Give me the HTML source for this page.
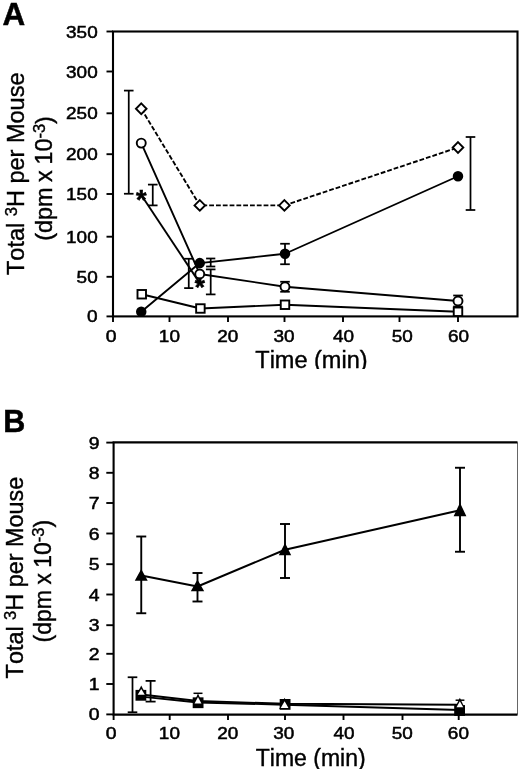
<!DOCTYPE html>
<html lang="en"><head><meta charset="utf-8"><title>Figure</title>
<style>html,body{margin:0;padding:0;background:#fff}svg{display:block;will-change:transform;filter:blur(0.35px)}</style></head>
<body>
<svg width="520" height="773" viewBox="0 0 520 773" font-family="'Liberation Sans', Arial, Helvetica, sans-serif" fill="#000" style="font-kerning:none">
<rect width="520" height="773" fill="#fff"/>
<clipPath id="ca"><rect x="0" y="0" width="520" height="368.9"/></clipPath>
<g clip-path="url(#ca)">
<text x="255.3" y="368.1" font-size="23.5" text-anchor="start" font-weight="normal"  stroke="#000" stroke-width="0.4">Time (min)</text>
</g>
<rect x="113.0" y="31.5" width="404.5" height="284.9" fill="none" stroke="#000" stroke-width="2.1"/>
<line x1="106.5" y1="31.5" x2="113.0" y2="31.5" stroke="#000" stroke-width="1.9" />
<text x="97.7" y="37.55" font-size="16.9" text-anchor="end" font-weight="normal" textLength="31.6" lengthAdjust="spacingAndGlyphs"  stroke="#000" stroke-width="0.5">350</text>
<line x1="106.5" y1="71.5" x2="113.0" y2="71.5" stroke="#000" stroke-width="1.9" />
<text x="97.7" y="77.55" font-size="16.9" text-anchor="end" font-weight="normal" textLength="31.6" lengthAdjust="spacingAndGlyphs"  stroke="#000" stroke-width="0.5">300</text>
<line x1="106.5" y1="113.3" x2="113.0" y2="113.3" stroke="#000" stroke-width="1.9" />
<text x="97.7" y="119.35" font-size="16.9" text-anchor="end" font-weight="normal" textLength="31.6" lengthAdjust="spacingAndGlyphs"  stroke="#000" stroke-width="0.5">250</text>
<line x1="106.5" y1="154.2" x2="113.0" y2="154.2" stroke="#000" stroke-width="1.9" />
<text x="97.7" y="160.25" font-size="16.9" text-anchor="end" font-weight="normal" textLength="31.6" lengthAdjust="spacingAndGlyphs"  stroke="#000" stroke-width="0.5">200</text>
<line x1="106.5" y1="194" x2="113.0" y2="194" stroke="#000" stroke-width="1.9" />
<text x="97.7" y="200.05" font-size="16.9" text-anchor="end" font-weight="normal" textLength="31.6" lengthAdjust="spacingAndGlyphs"  stroke="#000" stroke-width="0.5">150</text>
<line x1="106.5" y1="236.7" x2="113.0" y2="236.7" stroke="#000" stroke-width="1.9" />
<text x="97.7" y="242.75" font-size="16.9" text-anchor="end" font-weight="normal" textLength="31.6" lengthAdjust="spacingAndGlyphs"  stroke="#000" stroke-width="0.5">100</text>
<line x1="106.5" y1="276.8" x2="113.0" y2="276.8" stroke="#000" stroke-width="1.9" />
<text x="97.7" y="282.85" font-size="16.9" text-anchor="end" font-weight="normal" textLength="21.1" lengthAdjust="spacingAndGlyphs"  stroke="#000" stroke-width="0.5">50</text>
<line x1="106.5" y1="316.4" x2="113.0" y2="316.4" stroke="#000" stroke-width="1.9" />
<text x="97.7" y="322.45" font-size="16.9" text-anchor="end" font-weight="normal" textLength="10.6" lengthAdjust="spacingAndGlyphs"  stroke="#000" stroke-width="0.5">0</text>
<line x1="113.0" y1="316.4" x2="113.0" y2="322" stroke="#000" stroke-width="1.9" />
<text x="111.2" y="341.9" font-size="16.9" text-anchor="middle" font-weight="normal" textLength="10.8" lengthAdjust="spacingAndGlyphs"  stroke="#000" stroke-width="0.5">0</text>
<line x1="169.5" y1="316.4" x2="169.5" y2="322" stroke="#000" stroke-width="1.9" />
<text x="169.4" y="341.9" font-size="16.9" text-anchor="middle" font-weight="normal" textLength="21.1" lengthAdjust="spacingAndGlyphs"  stroke="#000" stroke-width="0.5">10</text>
<line x1="228" y1="316.4" x2="228" y2="322" stroke="#000" stroke-width="1.9" />
<text x="227.7" y="341.9" font-size="16.9" text-anchor="middle" font-weight="normal" textLength="21.1" lengthAdjust="spacingAndGlyphs"  stroke="#000" stroke-width="0.5">20</text>
<line x1="284.5" y1="316.4" x2="284.5" y2="322" stroke="#000" stroke-width="1.9" />
<text x="284" y="341.9" font-size="16.9" text-anchor="middle" font-weight="normal" textLength="21.1" lengthAdjust="spacingAndGlyphs"  stroke="#000" stroke-width="0.5">30</text>
<line x1="343" y1="316.4" x2="343" y2="322" stroke="#000" stroke-width="1.9" />
<text x="343.5" y="341.9" font-size="16.9" text-anchor="middle" font-weight="normal" textLength="21.1" lengthAdjust="spacingAndGlyphs"  stroke="#000" stroke-width="0.5">40</text>
<line x1="399.5" y1="316.4" x2="399.5" y2="322" stroke="#000" stroke-width="1.9" />
<text x="402.2" y="341.9" font-size="16.9" text-anchor="middle" font-weight="normal" textLength="21.1" lengthAdjust="spacingAndGlyphs"  stroke="#000" stroke-width="0.5">50</text>
<line x1="458" y1="316.4" x2="458" y2="322" stroke="#000" stroke-width="1.9" />
<text x="458.5" y="341.9" font-size="16.9" text-anchor="middle" font-weight="normal" textLength="21.1" lengthAdjust="spacingAndGlyphs"  stroke="#000" stroke-width="0.5">60</text>
<g transform="translate(24.2,274.6) rotate(-90)">
<text x="-0.4" y="0" font-size="23.5" stroke="#000" stroke-width="0.4">Total <tspan font-size="16.5" dy="-7">3</tspan><tspan dy="7">H per Mouse</tspan></text>
</g>
<g transform="translate(51.7,239.6) rotate(-90)">
<text x="-1.2" y="0" font-size="23.4" word-spacing="-0.9" stroke="#000" stroke-width="0.4">(dpm x 10<tspan font-size="16.5" dy="-7">-3</tspan><tspan dy="7">)</tspan></text>
</g>
<text x="2.4" y="25" font-size="31.4" text-anchor="start" font-weight="bold"  stroke="#000" stroke-width="0.5">A</text>
<line x1="128.75" y1="90.6" x2="128.75" y2="193.75" stroke="#000" stroke-width="1.75" />
<line x1="123.95" y1="90.6" x2="133.55" y2="90.6" stroke="#000" stroke-width="1.75" />
<line x1="123.95" y1="193.75" x2="133.55" y2="193.75" stroke="#000" stroke-width="1.75" />
<line x1="470.5" y1="137" x2="470.5" y2="210" stroke="#000" stroke-width="1.75" />
<line x1="465.7" y1="137" x2="475.3" y2="137" stroke="#000" stroke-width="1.75" />
<line x1="465.7" y1="210" x2="475.3" y2="210" stroke="#000" stroke-width="1.75" />
<line x1="152.75" y1="184.6" x2="152.75" y2="205.4" stroke="#000" stroke-width="1.75" />
<line x1="147.95" y1="184.6" x2="157.55" y2="184.6" stroke="#000" stroke-width="1.75" />
<line x1="147.95" y1="205.4" x2="157.55" y2="205.4" stroke="#000" stroke-width="1.75" />
<line x1="188.75" y1="258.75" x2="188.75" y2="288.1" stroke="#000" stroke-width="1.75" />
<line x1="184.15" y1="258.75" x2="193.35" y2="258.75" stroke="#000" stroke-width="1.75" />
<line x1="184.15" y1="288.1" x2="193.35" y2="288.1" stroke="#000" stroke-width="1.75" />
<line x1="210.7" y1="258.5" x2="210.7" y2="266.5" stroke="#000" stroke-width="1.75" />
<line x1="206.1" y1="258.5" x2="215.29999999999998" y2="258.5" stroke="#000" stroke-width="1.75" />
<line x1="206.1" y1="266.5" x2="215.29999999999998" y2="266.5" stroke="#000" stroke-width="1.75" />
<line x1="210.7" y1="269.4" x2="210.7" y2="294.4" stroke="#000" stroke-width="1.75" />
<line x1="205.89999999999998" y1="269.4" x2="215.5" y2="269.4" stroke="#000" stroke-width="1.75" />
<line x1="205.89999999999998" y1="294.4" x2="215.5" y2="294.4" stroke="#000" stroke-width="1.75" />
<line x1="285" y1="243.75" x2="285" y2="264.25" stroke="#000" stroke-width="1.75" />
<line x1="280.2" y1="243.75" x2="289.8" y2="243.75" stroke="#000" stroke-width="1.75" />
<line x1="280.2" y1="264.25" x2="289.8" y2="264.25" stroke="#000" stroke-width="1.75" />
<line x1="285" y1="281.75" x2="285" y2="291.75" stroke="#000" stroke-width="1.75" />
<line x1="280.2" y1="281.75" x2="289.8" y2="281.75" stroke="#000" stroke-width="1.75" />
<line x1="280.2" y1="291.75" x2="289.8" y2="291.75" stroke="#000" stroke-width="1.75" />
<line x1="458" y1="295.5" x2="458" y2="306.5" stroke="#000" stroke-width="1.75" />
<line x1="453.2" y1="295.5" x2="462.8" y2="295.5" stroke="#000" stroke-width="1.75" />
<line x1="453.2" y1="306.5" x2="462.8" y2="306.5" stroke="#000" stroke-width="1.75" />
<polyline points="141.25,108.75 199.8,205.4 284.4,205.4 458,147.5" fill="none" stroke="#000" stroke-width="1.9" stroke-linejoin="round" stroke-dasharray="4.8 2"/>
<polyline points="141.25,143.1 199.75,274 285,286.75 458,301" fill="none" stroke="#000" stroke-width="1.9" stroke-linejoin="round" />
<polyline points="141.25,311.75 199.75,263.1 285,253.75 458,176.25" fill="none" stroke="#000" stroke-width="1.9" stroke-linejoin="round" />
<polyline points="141.75,294.25 200.4,308.5 285,304.75 458,311.75" fill="none" stroke="#000" stroke-width="1.9" stroke-linejoin="round" />
<polyline points="141.25,195 199.75,283.1" fill="none" stroke="#000" stroke-width="1.9" stroke-linejoin="round" />
<polygon points="141.25,103.45 146.55,108.75 141.25,114.05 135.95,108.75" fill="#fff" stroke="#000" stroke-width="1.9" stroke-linejoin="miter"/>
<polygon points="199.8,200.1 205.10000000000002,205.4 199.8,210.70000000000002 194.5,205.4" fill="#fff" stroke="#000" stroke-width="1.9" stroke-linejoin="miter"/>
<polygon points="284.4,200.1 289.7,205.4 284.4,210.70000000000002 279.09999999999997,205.4" fill="#fff" stroke="#000" stroke-width="1.9" stroke-linejoin="miter"/>
<polygon points="458,142.2 463.3,147.5 458,152.8 452.7,147.5" fill="#fff" stroke="#000" stroke-width="1.9" stroke-linejoin="miter"/>
<rect x="137.5" y="290.0" width="8.5" height="8.5" fill="#fff" stroke="#000" stroke-width="1.9"/>
<rect x="196.15" y="304.25" width="8.5" height="8.5" fill="#fff" stroke="#000" stroke-width="1.9"/>
<rect x="280.75" y="300.5" width="8.5" height="8.5" fill="#fff" stroke="#000" stroke-width="1.9"/>
<rect x="453.75" y="307.5" width="8.5" height="8.5" fill="#fff" stroke="#000" stroke-width="1.9"/>
<circle cx="141.25" cy="311.75" r="4.3" fill="#000" stroke="#000" stroke-width="1.9"/>
<circle cx="199.75" cy="263.1" r="4.3" fill="#000" stroke="#000" stroke-width="1.9"/>
<circle cx="285" cy="253.75" r="4.3" fill="#000" stroke="#000" stroke-width="1.9"/>
<circle cx="458" cy="176.25" r="4.3" fill="#000" stroke="#000" stroke-width="1.9"/>
<circle cx="141.25" cy="143.1" r="4.5" fill="#fff" stroke="#000" stroke-width="1.9"/>
<circle cx="199.75" cy="274" r="4.5" fill="#fff" stroke="#000" stroke-width="1.9"/>
<circle cx="285" cy="286.75" r="4.5" fill="#fff" stroke="#000" stroke-width="1.9"/>
<circle cx="458" cy="301" r="4.5" fill="#fff" stroke="#000" stroke-width="1.9"/>
<text x="141.25" y="208.5" font-size="27" text-anchor="middle" font-weight="bold"  stroke="#000" stroke-width="0.6">*</text>
<text x="199.75" y="296.2" font-size="26" text-anchor="middle" font-weight="bold"  stroke="#000" stroke-width="0.6">*</text>
<clipPath id="cb"><rect x="0" y="700" width="520" height="69"/></clipPath><g clip-path="url(#cb)">
<text x="255.8" y="765.7" font-size="23" text-anchor="start" font-weight="normal"  stroke="#000" stroke-width="0.4">Time (min)</text>
</g>
<line x1="517.5" y1="442.4" x2="517.5" y2="714.6" stroke="#666" stroke-width="1" stroke="#555"/>
<polyline points="517.5,442.4 113.6,442.4 113.6,714.6 517.5,714.6" fill="none" stroke="#000" stroke-width="2.1" stroke-linejoin="miter" />
<line x1="106.3" y1="442.6" x2="113.6" y2="442.6" stroke="#000" stroke-width="1.9" />
<text x="99.5" y="448.65000000000003" font-size="16.9" text-anchor="end" font-weight="normal" textLength="10.8" lengthAdjust="spacingAndGlyphs"  stroke="#000" stroke-width="0.5">9</text>
<line x1="106.3" y1="472.8" x2="113.6" y2="472.8" stroke="#000" stroke-width="1.9" />
<text x="99.5" y="478.85" font-size="16.9" text-anchor="end" font-weight="normal" textLength="10.8" lengthAdjust="spacingAndGlyphs"  stroke="#000" stroke-width="0.5">8</text>
<line x1="106.3" y1="503" x2="113.6" y2="503" stroke="#000" stroke-width="1.9" />
<text x="99.5" y="509.05" font-size="16.9" text-anchor="end" font-weight="normal" textLength="10.8" lengthAdjust="spacingAndGlyphs"  stroke="#000" stroke-width="0.5">7</text>
<line x1="106.3" y1="533.5" x2="113.6" y2="533.5" stroke="#000" stroke-width="1.9" />
<text x="99.5" y="539.55" font-size="16.9" text-anchor="end" font-weight="normal" textLength="10.8" lengthAdjust="spacingAndGlyphs"  stroke="#000" stroke-width="0.5">6</text>
<line x1="106.3" y1="564.2" x2="113.6" y2="564.2" stroke="#000" stroke-width="1.9" />
<text x="99.5" y="570.25" font-size="16.9" text-anchor="end" font-weight="normal" textLength="10.8" lengthAdjust="spacingAndGlyphs"  stroke="#000" stroke-width="0.5">5</text>
<line x1="106.3" y1="594.5" x2="113.6" y2="594.5" stroke="#000" stroke-width="1.9" />
<text x="99.5" y="600.55" font-size="16.9" text-anchor="end" font-weight="normal" textLength="10.8" lengthAdjust="spacingAndGlyphs"  stroke="#000" stroke-width="0.5">4</text>
<line x1="106.3" y1="625.2" x2="113.6" y2="625.2" stroke="#000" stroke-width="1.9" />
<text x="99.5" y="631.25" font-size="16.9" text-anchor="end" font-weight="normal" textLength="10.8" lengthAdjust="spacingAndGlyphs"  stroke="#000" stroke-width="0.5">3</text>
<line x1="106.3" y1="653.8" x2="113.6" y2="653.8" stroke="#000" stroke-width="1.9" />
<text x="99.5" y="659.8499999999999" font-size="16.9" text-anchor="end" font-weight="normal" textLength="10.8" lengthAdjust="spacingAndGlyphs"  stroke="#000" stroke-width="0.5">2</text>
<line x1="106.3" y1="684" x2="113.6" y2="684" stroke="#000" stroke-width="1.9" />
<text x="99.5" y="690.05" font-size="16.9" text-anchor="end" font-weight="normal" textLength="10.8" lengthAdjust="spacingAndGlyphs"  stroke="#000" stroke-width="0.5">1</text>
<line x1="106.3" y1="714.4" x2="113.6" y2="714.4" stroke="#000" stroke-width="1.9" />
<text x="99.5" y="720.4499999999999" font-size="16.9" text-anchor="end" font-weight="normal" textLength="10.8" lengthAdjust="spacingAndGlyphs"  stroke="#000" stroke-width="0.5">0</text>
<line x1="113.6" y1="714.6" x2="113.6" y2="720" stroke="#000" stroke-width="1.9" />
<text x="111.2" y="739.2" font-size="16.9" text-anchor="middle" font-weight="normal" textLength="10.8" lengthAdjust="spacingAndGlyphs"  stroke="#000" stroke-width="0.5">0</text>
<line x1="169.7" y1="714.6" x2="169.7" y2="720" stroke="#000" stroke-width="1.9" />
<text x="169.4" y="739.2" font-size="16.9" text-anchor="middle" font-weight="normal" textLength="21.1" lengthAdjust="spacingAndGlyphs"  stroke="#000" stroke-width="0.5">10</text>
<line x1="228" y1="714.6" x2="228" y2="720" stroke="#000" stroke-width="1.9" />
<text x="227.8" y="739.2" font-size="16.9" text-anchor="middle" font-weight="normal" textLength="21.1" lengthAdjust="spacingAndGlyphs"  stroke="#000" stroke-width="0.5">20</text>
<line x1="285" y1="714.6" x2="285" y2="720" stroke="#000" stroke-width="1.9" />
<text x="283.8" y="739.2" font-size="16.9" text-anchor="middle" font-weight="normal" textLength="21.1" lengthAdjust="spacingAndGlyphs"  stroke="#000" stroke-width="0.5">30</text>
<line x1="343.5" y1="714.6" x2="343.5" y2="720" stroke="#000" stroke-width="1.9" />
<text x="344" y="739.2" font-size="16.9" text-anchor="middle" font-weight="normal" textLength="21.1" lengthAdjust="spacingAndGlyphs"  stroke="#000" stroke-width="0.5">40</text>
<line x1="402.5" y1="714.6" x2="402.5" y2="720" stroke="#000" stroke-width="1.9" />
<text x="402.2" y="739.2" font-size="16.9" text-anchor="middle" font-weight="normal" textLength="21.1" lengthAdjust="spacingAndGlyphs"  stroke="#000" stroke-width="0.5">50</text>
<line x1="458.7" y1="714.6" x2="458.7" y2="720" stroke="#000" stroke-width="1.9" />
<text x="458.4" y="739.2" font-size="16.9" text-anchor="middle" font-weight="normal" textLength="21.1" lengthAdjust="spacingAndGlyphs"  stroke="#000" stroke-width="0.5">60</text>
<g transform="translate(22.9,678) rotate(-90)">
<text x="-0.4" y="0" font-size="23.4" stroke="#000" stroke-width="0.4">Total <tspan font-size="16.5" dy="-7">3</tspan><tspan dy="7">H per Mouse</tspan></text>
</g>
<g transform="translate(51.1,641.8) rotate(-90)">
<text x="-0.6" y="0" font-size="23" word-spacing="-1" stroke="#000" stroke-width="0.4">(dpm x 10<tspan font-size="16.5" dy="-7">-3</tspan><tspan dy="7">)</tspan></text>
</g>
<text x="3.3" y="431.8" font-size="30.5" text-anchor="start" font-weight="bold"  stroke="#000" stroke-width="0.5">B</text>
<line x1="141.25" y1="536.5" x2="141.25" y2="613.25" stroke="#000" stroke-width="1.9" />
<line x1="136.25" y1="536.5" x2="146.25" y2="536.5" stroke="#000" stroke-width="1.9" />
<line x1="136.25" y1="613.25" x2="146.25" y2="613.25" stroke="#000" stroke-width="1.9" />
<line x1="197.5" y1="573" x2="197.5" y2="601.5" stroke="#000" stroke-width="1.9" />
<line x1="192.5" y1="573" x2="202.5" y2="573" stroke="#000" stroke-width="1.9" />
<line x1="192.5" y1="601.5" x2="202.5" y2="601.5" stroke="#000" stroke-width="1.9" />
<line x1="285" y1="524" x2="285" y2="578" stroke="#000" stroke-width="1.9" />
<line x1="280" y1="524" x2="290" y2="524" stroke="#000" stroke-width="1.9" />
<line x1="280" y1="578" x2="290" y2="578" stroke="#000" stroke-width="1.9" />
<line x1="460" y1="467.75" x2="460" y2="551.75" stroke="#000" stroke-width="1.9" />
<line x1="455" y1="467.75" x2="465" y2="467.75" stroke="#000" stroke-width="1.9" />
<line x1="455" y1="551.75" x2="465" y2="551.75" stroke="#000" stroke-width="1.9" />
<line x1="132.5" y1="677.25" x2="132.5" y2="712.25" stroke="#000" stroke-width="1.75" />
<line x1="127.7" y1="677.25" x2="137.3" y2="677.25" stroke="#000" stroke-width="1.75" />
<line x1="127.7" y1="712.25" x2="137.3" y2="712.25" stroke="#000" stroke-width="1.75" />
<line x1="150.6" y1="680.9" x2="150.6" y2="701.6" stroke="#000" stroke-width="1.75" />
<line x1="145.6" y1="680.9" x2="155.6" y2="680.9" stroke="#000" stroke-width="1.75" />
<line x1="145.6" y1="701.6" x2="155.6" y2="701.6" stroke="#000" stroke-width="1.75" />
<line x1="193.5" y1="693.3" x2="202.5" y2="693.3" stroke="#000" stroke-width="1.5" />
<line x1="455.6" y1="700.2" x2="464.4" y2="700.2" stroke="#000" stroke-width="1.5" />
<polyline points="141.25,575.5 197.5,586.5 285,549.75 460,510.25" fill="none" stroke="#000" stroke-width="2" stroke-linejoin="round" />
<polyline points="141.25,694.5 198,701.0 284.5,703.8 459.7,704.7" fill="none" stroke="#000" stroke-width="1.9" stroke-linejoin="round" />
<polyline points="141.25,696.6 198,702.5 284.5,704.7 459.7,710" fill="none" stroke="#000" stroke-width="1.9" stroke-linejoin="round" />
<rect x="136.25" y="690.65" width="9.3" height="9.3" fill="#000" stroke="#000" stroke-width="1.5"/>
<rect x="193.45" y="698.1" width="9.3" height="9.3" fill="#000" stroke="#000" stroke-width="1.5"/>
<rect x="280.45000000000005" y="699.75" width="9.3" height="9.3" fill="#000" stroke="#000" stroke-width="1.5"/>
<rect x="454.95000000000005" y="705.85" width="9.3" height="9.3" fill="#000" stroke="#000" stroke-width="1.5"/>
<polygon points="141.25,685.6 146.35,695.6 136.15,695.6" fill="#000"/>
<polygon points="141.25,689.1 144.79999999999998,694.7 137.70000000000002,694.7" fill="#fff"/>
<polygon points="198,693.6 203.0,704.5 193.0,704.5" fill="#000"/>
<polygon points="198,697.1 201.45,703.6 194.55,703.6" fill="#fff"/>
<polygon points="284.6,697.8 290.0,709 279.20000000000005,709" fill="#000"/>
<polygon points="284.6,701.3 288.45,708.1 280.75000000000006,708.1" fill="#fff"/>
<polygon points="459.85,697.7 464.75,708.1 454.95000000000005,708.1" fill="#000"/>
<polygon points="459.85,701.2 463.2,707.2 456.50000000000006,707.2" fill="#fff"/>
<polygon points="141.25,570.6 146.45,580 136.05,580" fill="#000" stroke="#000" stroke-width="1.5" stroke-linejoin="miter"/>
<polygon points="197.5,581 202.9,590.4 192.1,590.4" fill="#000" stroke="#000" stroke-width="1.5" stroke-linejoin="miter"/>
<polygon points="285,544.6 290,554.6 280,554.6" fill="#000" stroke="#000" stroke-width="1.5" stroke-linejoin="miter"/>
<polygon points="460,504.6 465.2,515.4 454.8,515.4" fill="#000" stroke="#000" stroke-width="1.5" stroke-linejoin="miter"/>
</svg>
</body></html>
